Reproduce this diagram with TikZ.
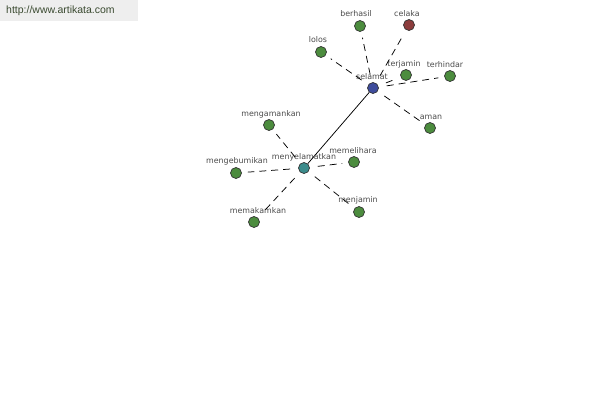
\documentclass[tikz,border=0pt]{standalone}
\usepackage{fontspec}
\setmainfont{DejaVu Sans}
\newfontfamily\wmfont{Liberation Sans}
\begin{document}
\begin{tikzpicture}[x=1pt,y=-1pt,
  dot/.style={circle,draw=black!80,line width=0.7pt,minimum size=11pt,inner sep=0pt},
  leaf/.style={dot,fill=leafgreen},
  lab/.style={font=\fontsize{7.9}{9}\selectfont,text=black!70,inner sep=0pt},
  dashedge/.style={dash pattern=on 7pt off 5pt,line width=0.75pt,shorten <=8pt,shorten >=6pt},
  solidedge/.style={line width=0.75pt}]
\definecolor{leafgreen}{HTML}{4C8C3E}
\definecolor{hubblue}{HTML}{3E4C9C}
\definecolor{hubteal}{HTML}{3C8C8C}
\definecolor{badred}{HTML}{8C3C3C}
\definecolor{wmgray}{HTML}{EEEEEE}
\definecolor{wmtext}{HTML}{3A4A30}
\useasboundingbox[fill=white] (0,0) rectangle (600,400);
\fill[wmgray] (0,0) rectangle (138,21);
\node[anchor=west,font=\wmfont\fontsize{10.5}{12}\selectfont,text=wmtext,inner sep=0pt] (wm) at (6,11) {http://www.artikata.com};
% hubs
\node[dot,fill=hubblue] (selamat) at (373,88) {};
\node[dot,fill=hubteal] (menyel) at (304,168) {};
% leaves around selamat
\node[leaf] (berhasil) at (360,26) {};
\node[dot,fill=badred] (celaka) at (409,25) {};
\node[leaf] (lolos) at (321,52) {};
\node[leaf] (terjamin) at (406,75) {};
\node[leaf] (terhindar) at (450,76) {};
\node[leaf] (aman) at (430,128) {};
% leaves around menyelamatkan
\node[leaf] (mengamankan) at (269,125) {};
\node[leaf] (mengebumikan) at (236,173) {};
\node[leaf] (memelihara) at (354,162) {};
\node[leaf] (menjamin) at (359,212) {};
\node[leaf] (memakamkan) at (254,222) {};
% labels
\node[lab] (l1) at (372,77) {selamat};
\node[lab] (l2) at (304,157) {menyelamatkan};
\node[lab] (l3) at (356,14) {berhasil};
\node[lab] (l4) at (407,14) {celaka};
\node[lab] (l5) at (318,40) {lolos};
\node[lab] (l6) at (404,64) {terjamin};
\node[lab] (l7) at (445,65) {terhindar};
\node[lab] (l8) at (431,117) {aman};
\node[lab] (l9) at (271,114) {mengamankan};
\node[lab] (l10) at (237,161) {mengebumikan};
\node[lab] (l11) at (353,151) {memelihara};
\node[lab] (l12) at (358,200) {menjamin};
\node[lab] (l13) at (258,211) {memakamkan};
% edges
\draw[solidedge] (selamat) -- (menyel);
\foreach \n in {berhasil,celaka,lolos,terjamin,terhindar,aman}
  \draw[dashedge] (selamat) -- (\n);
\foreach \n in {mengamankan,mengebumikan,memelihara,menjamin,memakamkan}
  \draw[dashedge] (menyel) -- (\n);
\end{tikzpicture}
\end{document}
